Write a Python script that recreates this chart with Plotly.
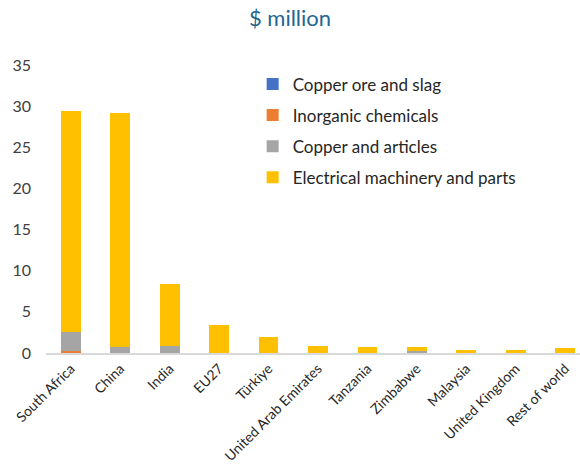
import plotly.graph_objects as go

countries = ["South Africa", "China", "India", "EU27", "Türkiye", "United Arab Emirates",
             "Tanzania", "Zimbabwe", "Malaysia", "United Kingdom", "Rest of world"]

copper_ore = [0.0, 0.0, 0.0, 0.0, 0.0, 0.0, 0.0, 0.05, 0.0, 0.0, 0.0]
inorganic_chem = [0.2, 0.0, 0.0, 0.0, 0.0, 0.0, 0.0, 0.0, 0.0, 0.0, 0.0]
copper_articles = [2.4, 0.7, 0.9, 0.05, 0.0, 0.0, 0.0, 0.15, 0.0, 0.0, 0.0]
electrical = [26.8, 28.5, 7.5, 3.35, 1.95, 0.85, 0.75, 0.5, 0.35, 0.35, 0.6]

series = [
    ("Copper ore and slag", copper_ore, "#4472C4"),
    ("Inorganic chemicals", inorganic_chem, "#ED7D31"),
    ("Copper and articles", copper_articles, "#A5A5A5"),
    ("Electrical machinery and parts", electrical, "#FFC000"),
]

font_family = "Lato, 'Open Sans', sans-serif"

fig = go.Figure()
for i, (name, vals, color) in enumerate(series):
    fig.add_trace(go.Bar(x=countries, y=vals, name=name, marker_color=color,
                         marker_line_width=0, legendgroup=f"g{i}"))

fig.update_layout(
    barmode="stack",
    bargap=0.6,
    width=580, height=464,
    margin=dict(l=46, r=0, t=65, b=111),
    paper_bgcolor="white", plot_bgcolor="white",
    font=dict(family=font_family, color="#404040"),
    title=dict(text="$ million", x=0.5, xanchor="center", y=0.96, yanchor="middle",
               font=dict(size=22, color="#1F6690", family=font_family)),
    showlegend=True,
    legend=dict(x=0.387, y=0.995, xanchor="left", yanchor="top", traceorder="grouped",
                font=dict(size=17, color="#262626", family=font_family),
                tracegroupgap=6, itemwidth=30, bgcolor="rgba(0,0,0,0)"),
    xaxis=dict(range=[-0.5, 10.3], tickangle=-45, showgrid=False,
               showline=True, linecolor="#D9D9D9", linewidth=2, ticks="",
               tickfont=dict(size=14, color="#262626")),
    yaxis=dict(range=[0, 35], dtick=5, showgrid=False, zeroline=False,
               showline=False, ticks="", ticklabelstandoff=14,
               tickfont=dict(size=16, color="#404040")),
)

fig.write_html("out.html")
